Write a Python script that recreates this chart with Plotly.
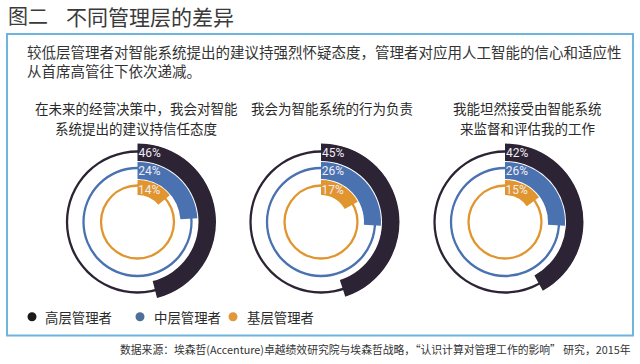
import plotly.graph_objects as go

W, H = 640, 364

title_parts = ["图二", "不同管理层的差异"]
desc_lines = ["较低层管理者对智能系统提出的建议持强烈怀疑态度，管理者对应用人工智能的信心和适应性",
              "从首席高管往下依次递减。"]
questions = [["在未来的经营决策中，我会对智能", "系统提出的建议持信任态度"],
             ["我会为智能系统的行为负责"],
             ["我能坦然接受由智能系统", "来监督和评估我的工作"]]
levels = ["高层管理者", "中层管理者", "基层管理者"]
senior = [46, 45, 42]
middle = [24, 26, 26]
junior = [14, 17, 15]
source_text = "数据来源：埃森哲(Accenture)卓越绩效研究院与埃森哲战略，“认识计算对管理工作的影响” 研究，2015年"

series = [senior, middle, junior]
colors = ["#2c2435", "#4a72b0", "#e0952e"]
legend_colors = ["#1c1a1c", "#4e6f98", "#e0983a"]
band_base = [61, 43, 27]
band_top = [78.5, 60, 42]
ring_r = [70.5, 54, 36.5]
label_r = [68.5, 50.5, 31.5]

centers_x = [137.5, 321, 505]
cy = 222
R = 79
sub_x = [136, 332, 527]

CJK = "Noto Sans CJK SC, Noto Sans, sans-serif"

def px(x):
    return x / W

def py(y):
    return 1 - y / H

fig = go.Figure()
layout_polars = {}
for i, cx in enumerate(centers_x):
    name = "polar" if i == 0 else f"polar{i+1}"
    sub = name
    for k in range(3):
        fig.add_trace(go.Barpolar(
            theta=[180], width=[360], base=[ring_r[k] - 1.15], r=[2.3],
            marker=dict(color=colors[k], line=dict(width=0)),
            subplot=sub, showlegend=False, hoverinfo="skip"))
    for k in range(3):
        v = series[k][i]
        fig.add_trace(go.Barpolar(
            theta=[v * 3.6 / 2], width=[v * 3.6], base=[band_base[k]],
            r=[band_top[k] - band_base[k]],
            marker=dict(color=colors[k], line=dict(width=0)),
            subplot=sub, showlegend=False, name=levels[k],
            hovertemplate=f"{levels[k]}: {v}%<extra></extra>"))
    fig.add_trace(go.Scatterpolar(
        theta=[0.8, 0.8, 0.8], r=label_r,
        text=[f"{series[k][i]}%" for k in range(3)],
        mode="text", textposition="middle right",
        textfont=dict(color="#f1ecf5", size=12,
                      family="Liberation Sans Narrow, Roboto, sans-serif"),
        subplot=sub, showlegend=False, hoverinfo="skip"))
    layout_polars[name] = dict(
        domain=dict(x=[px(cx - R), px(cx + R)], y=[py(cy + R), py(cy - R)]),
        bgcolor="rgba(0,0,0,0)",
        radialaxis=dict(range=[0, R], visible=False, showgrid=False),
        angularaxis=dict(rotation=90, direction="clockwise", visible=False,
                         showgrid=False),
        bargap=0,
    )

annotations = []
annotations.append(dict(x=px(6), y=py(16), text=title_parts[0], showarrow=False,
                        xanchor="left", yanchor="middle",
                        font=dict(family=CJK, size=20, color="#3a3a3a")))
annotations.append(dict(x=px(64), y=py(16), text=title_parts[1], showarrow=False,
                        xanchor="left", yanchor="middle",
                        font=dict(family=CJK, size=21, color="#3a3a3a")))
annotations.append(dict(x=px(25), y=py(61), text="<br>".join(desc_lines),
                        showarrow=False, xanchor="left", yanchor="middle", align="left",
                        font=dict(family=CJK, size=14.5, color="#333333")))
for i, q in enumerate(questions):
    for j, line in enumerate(q):
        annotations.append(dict(x=px(sub_x[i]), y=py(108 + j * 20), text=line,
                                showarrow=False, xanchor="center", yanchor="middle",
                                font=dict(family=CJK, size=13.5, color="#2a2a2a")))
legend_dot_x = [32, 140, 233]
legend_text_x = [43, 152, 245]
shapes = []
for k in range(3):
    annotations.append(dict(x=px(legend_text_x[k]), y=py(316.5), text=levels[k],
                            showarrow=False, xanchor="left", yanchor="middle",
                            font=dict(family=CJK, size=13.4, color="#2a2a2a")))
    shapes.append(dict(type="circle", xref="paper", yref="paper",
                       x0=px(legend_dot_x[k] - 4.5), x1=px(legend_dot_x[k] + 4.5),
                       y0=py(316.7 + 4.5), y1=py(316.7 - 4.5),
                       fillcolor=legend_colors[k], line=dict(width=0)))
annotations.append(dict(x=px(633), y=py(348.5), text=source_text, showarrow=False,
                        xanchor="right", yanchor="middle",
                        font=dict(family=CJK, size=10.8, color="#333333")))
shapes.append(dict(type="rect", xref="paper", yref="paper",
                   x0=px(7), x1=px(633), y0=py(335.5), y1=py(34),
                   line=dict(color="#6db5df", width=2), fillcolor="rgba(0,0,0,0)"))

fig.update_layout(width=W, height=H, margin=dict(l=0, r=0, t=0, b=0),
                  paper_bgcolor="white", plot_bgcolor="white",
                  annotations=annotations, shapes=shapes, **layout_polars)

fig.write_html("out.html", config={"displayModeBar": False},
               post_script="document.body.style.margin='0';document.body.style.overflow='hidden';")
